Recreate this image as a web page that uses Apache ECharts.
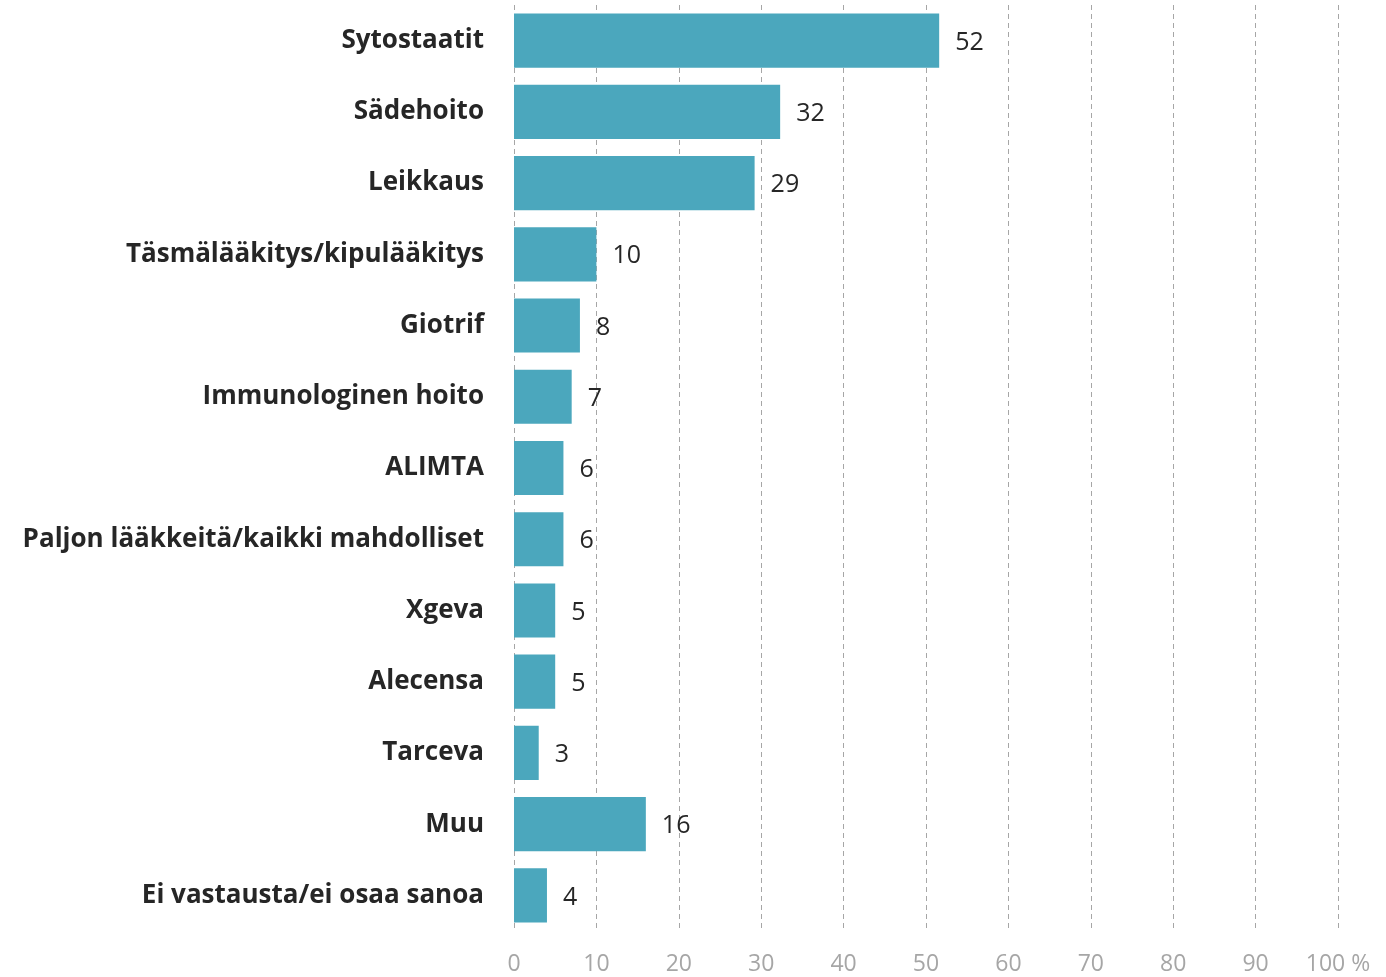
<!DOCTYPE html>
<html>
<head>
<meta charset="utf-8">
<script src="https://cdn.jsdelivr.net/npm/echarts@6/dist/echarts.min.js"></script>
<style>
  html, body { margin: 0; padding: 0; background: #fff; }
  #chart { width: 1386px; height: 977px; }
</style>
</head>
<body>
<div id="chart"></div>
<script>
// data
const categories = [
  'Sytostaatit',
  'Sädehoito',
  'Leikkaus',
  'Täsmälääkitys/kipulääkitys',
  'Giotrif',
  'Immunologinen hoito',
  'ALIMTA',
  'Paljon lääkkeitä/kaikki mahdolliset',
  'Xgeva',
  'Alecensa',
  'Tarceva',
  'Muu',
  'Ei vastausta/ei osaa sanoa'
];
const values = [51.6, 32.3, 29.2, 10, 8, 7, 6, 6, 5, 5, 3, 16, 4];
const tickLabels = ['0', '10', '20', '30', '40', '50', '60', '70', '80', '90', '100 %'];

const chart = echarts.init(document.getElementById('chart'));
chart.setOption({
  animation: false,
  grid: {
    left: 514,
    right: 48,
    top: 5,
    bottom: 46
  },
  xAxis: {
    type: 'value',
    min: 0,
    max: 100,
    interval: 10,
    axisLine: { show: false },
    axisTick: { show: false },
    axisLabel: {
      color: '#a6a6a6',
      fontSize: 23,
      fontFamily: 'Open Sans',
      margin: 22,
      formatter: (v) => tickLabels[Math.round(v / 10)]
    },
    splitLine: {
      show: true,
      lineStyle: { color: '#a6a6a6', type: [5, 4], width: 1 }
    }
  },
  yAxis: {
    type: 'category',
    inverse: true,
    data: categories,
    axisLine: { show: false },
    axisTick: { show: false },
    axisLabel: {
      color: '#262626',
      fontSize: 26,
      fontWeight: 'bold',
      fontFamily: 'Open Sans',
      margin: 30,
      padding: [5, 0, 0, 0]
    }
  },
  series: [
    {
      type: 'bar',
      data: values,
      barCategoryGap: '24%',
      itemStyle: { color: '#4ba7bd' },
      label: {
        show: true,
        position: 'right',
        distance: 16,
        offset: [0, 2],
        color: '#262626',
        fontSize: 25,
        fontFamily: 'Open Sans',
        formatter: (p) => Math.round(p.value)
      }
    }
  ]
});
</script>
</body>
</html>
